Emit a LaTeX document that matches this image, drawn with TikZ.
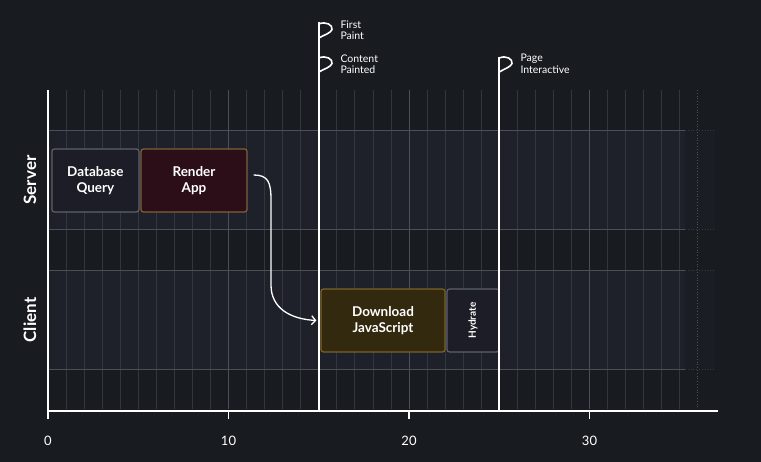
\documentclass[tikz,border=0pt]{standalone}
\usepackage{fontspec}
\setmainfont{Lato}
\usetikzlibrary{arrows.meta}
\definecolor{bgc}{HTML}{181B1F}
\definecolor{lanec}{HTML}{1E212A}
\definecolor{gridminor}{HTML}{32373F}
\definecolor{gridmajor}{HTML}{4A4F58}
\definecolor{laneline}{HTML}{4A4F58}
\definecolor{dbfill}{HTML}{1C1D26}
\definecolor{dbdraw}{HTML}{5C626C}
\definecolor{renderfill}{HTML}{2B0E18}
\definecolor{renderdraw}{HTML}{7E6238}
\definecolor{dlfill}{HTML}{33290F}
\definecolor{dldraw}{HTML}{7A6128}
\tikzset{
  taskbox/.style={rounded corners=2.5pt, line width=1.2pt, text=white,
    font=\fontsize{13.5}{16}\selectfont\bfseries, align=center,
    minimum height=63pt, inner sep=0pt},
  lanelabel/.style={text=white, font=\fontsize{17}{20}\selectfont\bfseries, rotate=90},
  marker/.style={draw=white, line width=1.8pt},
  flag/.style={draw=white, line width=1.6pt, line join=round},
  markerlabel/.style={text=white, font=\fontsize{10.5}{11.5}\selectfont, align=left, anchor=west},
  ticklabel/.style={text=white, font=\fontsize{13}{15}\selectfont},
  axisline/.style={draw=white, line width=2.6pt},
}
\begin{document}
\begin{tikzpicture}[x=1pt,y=-1pt]
% canvas
\fill[bgc] (0,0) rectangle (761,462);
\useasboundingbox (0,0) rectangle (761,462);

% lane bands
\fill[lanec] (48,130) rectangle (685,229);
\fill[lanec] (48,270) rectangle (685,369);
\fill[lanec, opacity=0.45] (685,130) rectangle (715,229);
\fill[lanec, opacity=0.45] (685,270) rectangle (715,369);

% vertical grid (one line per time unit)
\foreach \t in {1,...,35} {
  \pgfmathsetmacro{\xx}{48+18.05*\t}
  \draw[gridminor, line width=0.8pt] (\xx,90) -- (\xx,409);
}
\foreach \t in {10,20,30} {
  \pgfmathsetmacro{\xx}{48+18.05*\t}
  \draw[gridmajor, line width=1pt] (\xx,90) -- (\xx,409);
}
\draw[gridmajor, line width=0.8pt, dotted] (697.8,90) -- (697.8,409);

% lane boundaries
\foreach \yy in {130,229,270,369} {
  \draw[laneline, line width=0.8pt] (48,\yy) -- (685,\yy);
  \draw[laneline, line width=0.8pt, dotted, opacity=0.6] (685,\yy) -- (715,\yy);
}

% lane labels
\node[lanelabel] (server) at (30,180) {Server};
\node[lanelabel] (client) at (30,320) {Client};

% tasks
\node[taskbox, fill=dbfill, draw=dbdraw, minimum width=87pt] (db) at (95.4,180.5) {Database\\Query};
\node[taskbox, fill=renderfill, draw=renderdraw, minimum width=106pt] (render) at (194,180.5) {Render\\App};
\node[taskbox, fill=dlfill, draw=dldraw, minimum width=124pt] (dl) at (383,320.5) {Download\\JavaScript};
\node[taskbox, fill=dbfill, draw=dbdraw, minimum width=52pt] (hyd) at (473,320.5) {};
\node[text=white, font=\fontsize{10}{12}\selectfont\bfseries, rotate=90] (hydtext) at (hyd.center) {Hydrate};

% hand-off from server render to client download
\draw[white, line width=1.3pt, -{Straight Barb[length=4pt,width=9pt,line width=1.3pt]}]
  ([xshift=6pt,yshift=5.5pt]render.east) .. controls (268,175) and (271,182) .. (271,200)
  -- (271,285) .. controls (271,308) and (290,319) .. ([xshift=-4pt]dl.west);

% axes
\coordinate (origin) at (48,411);
\coordinate (ytop) at (48,90);
\coordinate (xend) at (718,411);
\draw[axisline] (ytop) -- ([yshift=-1pt]origin);
\draw[axisline] ([xshift=-1.3pt]origin) -- (xend);
\foreach \t in {0,10,20,30} {
  \pgfmathsetmacro{\xx}{48+18.05*\t}
  \draw[white, line width=1.6pt] (\xx,411) -- (\xx,419);
  \node[ticklabel] (tick\t) at (\xx,441) {\t};
}

% milestone markers
\coordinate (fpTop) at (318.75,22);
\coordinate (fpBase) at (318.75,411);
\coordinate (piTop) at (499.25,57);
\coordinate (piBase) at (499.25,411);
\draw[marker] (fpTop) -- (fpBase);
\draw[marker] (piTop) -- (piBase);

% flags
\draw[flag] (318.75,24) .. controls (326,21) and (333,25) .. (332,29.5) .. controls (331,33) and (324,35) .. (318.75,38);
\draw[flag] (318.75,58) .. controls (326,55) and (333,59) .. (332,63.5) .. controls (331,67) and (324,69) .. (318.75,72);
\draw[flag] (499.25,58) .. controls (506,55) and (513,59) .. (512,63.5) .. controls (511,67) and (504,69) .. (499.25,72);

\node[markerlabel] (fp) at (337,30) {First\\Paint};
\node[markerlabel] (cp) at (337,64) {Content\\Painted};
\node[markerlabel] (pi) at (517,64) {Page\\Interactive};
\end{tikzpicture}
\end{document}
